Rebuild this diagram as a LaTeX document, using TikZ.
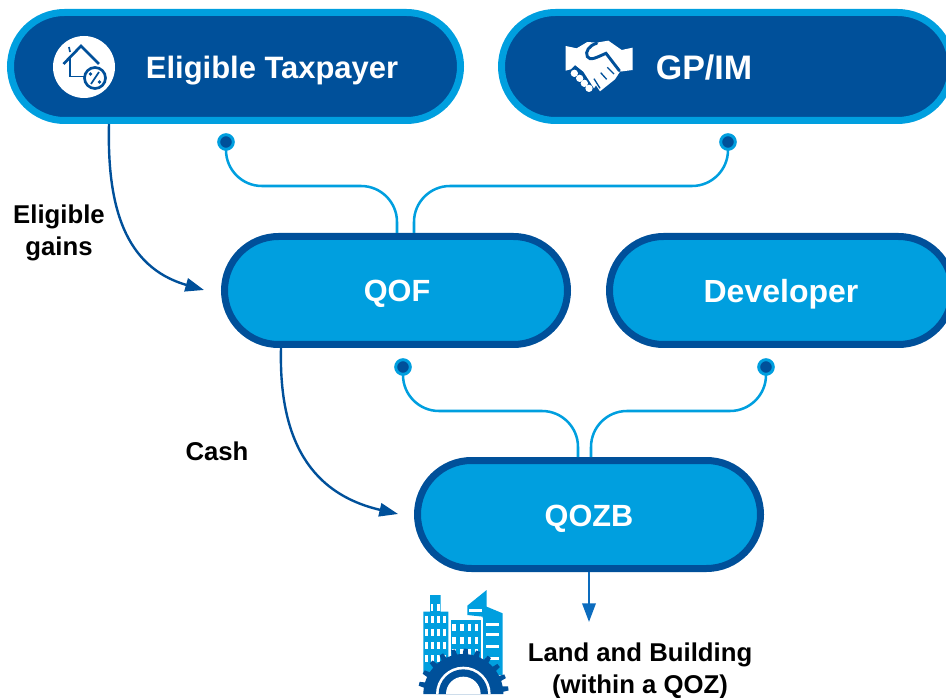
\documentclass[tikz,border=0pt]{standalone}
\usepackage{fontspec}
\setmainfont{Liberation Sans}
\usetikzlibrary{positioning,arrows.meta,shapes.misc}
\definecolor{qozdark}{HTML}{00509A}
\definecolor{qozlight}{HTML}{009FDF}
\definecolor{qozmid}{HTML}{0C6CBE}
\tikzset{
    pill/.style={rounded rectangle,inner sep=0pt,minimum height=81pt,line width=5.25pt},
    darkpill/.style={pill,draw=qozlight,fill=qozdark,minimum width=337.5pt},
    lightpill/.style={pill,draw=qozdark,fill=qozlight,minimum width=257.25pt},
    pilltext/.style={text=white,font=\bfseries\fontsize{24}{28}\selectfont,inner sep=0pt},
    plaintext/.style={text=black,font=\bfseries\fontsize{19.3}{24}\selectfont,align=center,inner sep=0pt},
    plug/.style={circle,draw=qozlight,fill=qozdark,line width=2.2pt,minimum size=11pt,inner sep=0pt},
    link/.style={qozlight,line width=1.9pt,rounded corners=27pt},
    flow/.style={line width=1.8pt,-{Triangle[length=14pt,width=10pt]}}
}
\begin{document}
\begin{tikzpicture}[x=0.75pt,y=-0.75pt]
    \useasboundingbox (0,0) rectangle (946,698);

    % Boites
    \node[darkpill] (taxpayer) at (235.5,66.5) {};
    \node[darkpill] (gpim) at (726.5,66.5) {};
    \node[lightpill] (qof) at (396,290.5) {};
    \node[lightpill] (developer) at (781,290.5) {};
    \node[lightpill] (qozb) at (589,514.5) {};

    % Textes
    \node[pilltext,font=\bfseries\fontsize{23.2}{28}\selectfont] (taxpayertext) at (272,71) {Eligible Taxpayer};
    \node[pilltext,font=\bfseries\fontsize{25.5}{28}\selectfont] (gpimtext) at (704,68) {GP/IM};
    \node[pilltext,font=\bfseries\fontsize{23}{28}\selectfont] (qoftext) at (397,294) {QOF};
    \node[pilltext] (developertext) at (781,294) {Developer};
    \node[pilltext,font=\bfseries\fontsize{23}{28}\selectfont] (qozbtext) at (589,519) {QOZB};
    \node[plaintext] (gainstext) at (59,233) {Eligible\\gains};
    \node[plaintext] (cashtext) at (217,451) {Cash};
    \node[plaintext] (landtext) at (640,671) {Land and Building\\(within a QOZ)};

    % Points de depart
    \node[plug] (plugtaxpayer) at (226,142) {};
    \node[plug] (pluggpim) at (728,142) {};
    \node[plug] (plugqof) at (403,367) {};
    \node[plug] (plugdeveloper) at (766,367) {};

    % Liaisons vers QOF et QOZB
    \coordinate (qofa) at (397,233);
    \coordinate (qofb) at (414,233);
    \coordinate (qozba) at (578,457);
    \coordinate (qozbb) at (591,457);
    \draw[link] (plugtaxpayer.south) -- (226,186) -- (397,186) -- (qofa);
    \draw[link] (pluggpim.south) -- (728,186) -- (414,186) -- (qofb);
    \draw[link] (plugqof.south) -- (403,411) -- (578,411) -- (qozba);
    \draw[link] (plugdeveloper.south) -- (766,411) -- (591,411) -- (qozbb);

    % Fleches
    \coordinate (gainsstart) at (109,124);
    \coordinate (gainsend) at (204,290);
    \coordinate (cashstart) at (281,348);
    \coordinate (cashend) at (398,514);
    \coordinate (landend) at (589,622);
    \draw[flow,qozdark] (gainsstart) .. controls (107,205) and (124,267) .. (gainsend);
    \draw[flow,qozdark] (cashstart) .. controls (279,429) and (303,492) .. (cashend);
    \draw[flow,qozmid] (qozb.south) -- (landend);

    % Maison
    \fill[white] (84,67) circle (31);
    \begin{scope}[qozdark,line width=2pt]
        \draw (63.5,64) -- (81,46) -- (99,64);
        \draw[line width=1.3pt] (70,57) -- (70,76.5) -- (86,76.5);
        \draw[line width=1.3pt] (69,47) -- (70,52);
        \draw[fill=white] (95,78) circle (10.5);
        \draw[line width=1.3pt] (91,84) -- (99,72);
        \fill (90.5,74) circle (1.8);
        \fill (99.5,82) circle (1.8);
    \end{scope}

    % Poignee de mains
    \begin{scope}[shift={(550,20)},x=0.25pt,y=-0.25pt]
        \fill[white] (47,78) -- (80,85) -- (112,66) -- (140,68) -- (175,62) -- (215,90)
            -- (248,83) -- (248,150) -- (210,155) -- (195,178) -- (150,214) -- (138,196)
            -- (132,205) -- (100,155) -- (75,135) -- (62,148) -- (47,152) -- cycle;
        \foreach \x/\y in {73/160,89/175,103/190,117/205} {
            \fill[white] (\x,\y) circle (11);
        }
        \draw[qozdark,line width=2.2pt,line cap=round] (140,70) .. controls (118,76) and (104,95) .. (112,110)
            .. controls (120,124) and (140,112) .. (168,100) -- (208,152);
        \draw[qozdark,line width=1pt] (192,162) -- (172,142) (170,178) -- (152,158) (150,205) -- (132,176);
    \end{scope}

    % Immeubles
    \begin{scope}[shift={(400,560)},x=0.25pt,y=-0.25pt]
        \fill[qozlight] (70,155) -- (90,155) -- (90,105) -- (122,105) -- (122,155) -- (145,155) -- (145,340) -- (70,340) -- cycle;
        \fill[qozlight] (202,137) -- (260,90) -- (260,140) -- (308,160) -- (308,345) -- (248,345) -- (248,170) -- (202,165) -- cycle;
        \fill[white] (147,175) rectangle (248,345);
        \fill[qozlight] (152,180) rectangle (243,345);
        \fill[white] (206,148) rectangle (246,157);
        \foreach \y in {190,220,255,290} {
            \fill[white] (258,\y) rectangle (297,\y+9);
        }
        \foreach \x in {80,98,116,134} {
            \foreach \y in {178,217,256,295} {
                \fill[white] (\x-4,\y-10) rectangle (\x+4,\y+10);
            }
        }
        \foreach \x in {96,116} {
            \fill[white] (\x-4,132) rectangle (\x+4,152);
        }
        \foreach \x in {162,186,208,230} {
            \foreach \y in {202,241,278} {
                \fill[white] (\x-5,\y-10) rectangle (\x+5,\y+10);
            }
        }
        % Engrenage
        \begin{scope}[shift={(190,402)}]
            \fill[qozdark] (-120,0) arc (180:360:120) -- cycle;
            \foreach \a in {7,23,...,175} {
                \fill[qozdark,rotate=\a] (112,-9) -- (136,-6) -- (136,6) -- (112,9) -- cycle;
            }
            \fill[white] (-82,0) arc (180:360:82) -- cycle;
            \fill[qozdark] (-74,0) arc (180:360:74) -- cycle;
            \fill[white] (-52,0) arc (180:360:52) -- cycle;
        \end{scope}
    \end{scope}
\end{tikzpicture}
\end{document}
